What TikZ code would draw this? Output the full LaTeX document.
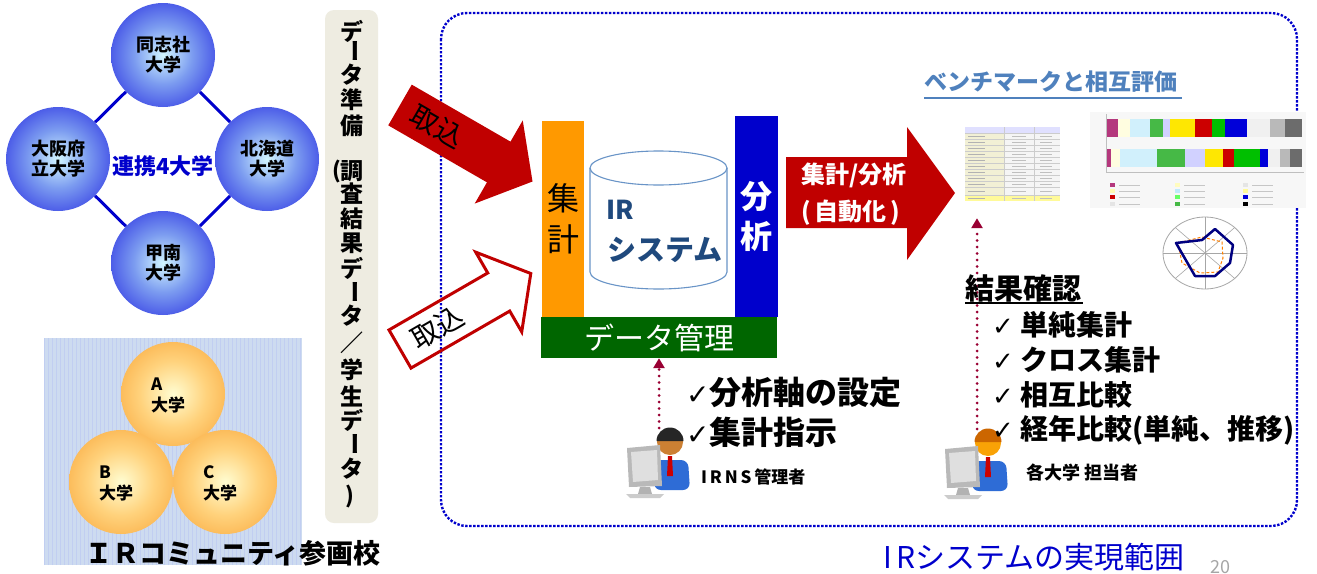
\documentclass[tikz,border=0pt]{standalone}
\usepackage{fontspec}
\setmainfont{Noto Sans CJK JP}
\newfontfamily\symfont{DejaVu Sans}
\usetikzlibrary{arrows.meta}

\newcommand{\sz}[2]{\fontsize{#1}{#2}\selectfont}

\definecolor{irblue}{HTML}{0000CC}
\definecolor{irred}{HTML}{C00000}
\definecolor{aggorange}{HTML}{FF9900}
\definecolor{dmgreen}{HTML}{006600}
\definecolor{pillgray}{HTML}{EEECE1}
\definecolor{gridblue}{HTML}{CDDBF0}
\definecolor{steel}{HTML}{4F81BD}
\definecolor{dbnavy}{HTML}{1F497D}
\definecolor{checkred}{HTML}{990033}
\definecolor{suit}{HTML}{2E6CD6}
% sphere colours
\definecolor{bcore}{HTML}{D2F6FF}
\definecolor{bmid}{HTML}{7C9CF0}
\definecolor{bouter}{HTML}{2A30E2}
\definecolor{bedge}{HTML}{1616B0}
\definecolor{ocore}{HTML}{FFFDD2}
\definecolor{omid}{HTML}{FFD27C}
\definecolor{oouter}{HTML}{F8A234}
\definecolor{oedge}{HTML}{EE8A12}
\pgfdeclareradialshading{bluesphere}{\pgfpoint{0bp}{0bp}}{color(0bp)=(bcore);color(14bp)=(bmid);color(33bp)=(bouter);color(45bp)=(bouter);color(50bp)=(bedge)}
\pgfdeclareradialshading{orangesphere}{\pgfpoint{0bp}{0bp}}{color(0bp)=(ocore);color(16bp)=(omid);color(36bp)=(oouter);color(50bp)=(oedge)}

% person at a desk: head centre x, y, skin, hair, name of the head coordinate
\newcommand{\deskuser}[5]{
  \fill[suit,rounded corners=7] (#1-16,#2+48) -- (#1-16,#2+18) -- (#1+18,#2+18) -- (#1+20,#2+48) -- cycle;
  \fill[white] (#1-4,#2+12) -- (#1+4,#2+12) -- (#1,#2+22) -- cycle;
  \fill[red!80!black] (#1-2,#2+14) -- (#1+2,#2+14) -- (#1+3,#2+34) -- (#1-3,#2+34) -- cycle;
  \fill[#3] (#1,#2) circle (13);
  \fill[#4] (#1-13.5,#2-1) arc[start angle=180,end angle=360,radius=13.5] -- (#1+13.5,#2-1) -- cycle;
  \fill[gray!55] (#1-43,#2+6) -- (#1-10,#2+3) -- (#1-8,#2+44) -- (#1-41,#2+45) -- cycle;
  \fill[gray!25] (#1-39,#2+10) -- (#1-13,#2+8) -- (#1-12,#2+38) -- (#1-37,#2+40) -- cycle;
  \fill[gray!60] (#1-30,#2+45) -- (#1-20,#2+45) -- (#1-18,#2+52) -- (#1-32,#2+52) -- cycle;
  \fill[gray!40] (#1-44,#2+52) -- (#1-6,#2+52) -- (#1-10,#2+56) -- (#1-40,#2+56) -- cycle;
  \coordinate (#5) at (#1-11,#2-14);
}

\begin{document}
\begin{tikzpicture}[x=1pt,y=-1pt,
    every node/.style={inner sep=0pt},
    ball/.style={circle,minimum size=104pt},
    uni/.style={ball,shading=bluesphere,align=center,font=\sz{18pt}{20pt}\bfseries},
    peer/.style={ball,shading=orangesphere},
    peertext/.style={align=left,font=\sz{17pt}{21pt}\bfseries},
    tie/.style={irblue,line width=3pt},
    scopeline/.style={irblue,line width=2.4pt,dash pattern=on 2.4pt off 1.6pt,rounded corners=26},
    checkline/.style={checkred,line width=3pt,line cap=round,dash pattern=on 0pt off 6.5pt,
      -{Triangle[width=11pt,length=10pt,line cap=butt]}},
    bar/.style={minimum width=#1,font=\sz{32pt}{41pt},align=center},
    listtext/.style={anchor=west,font=\sz{28pt}{28pt}\bfseries}]
  \useasboundingbox (0,0) rectangle (1317,573);
  \fill[white] (0,0) rectangle (1317,573);

  % four partner universities
  \node[text=irblue,font=\sz{22pt}{22pt}\bfseries] (union) at (163,166) {連携4大学};
  \node[uni] (dos) at (163,55) {同志社\\大学};
  \node[uni] (osaka) at (58,159) {大阪府\\立大学};
  \node[uni] (hok) at (267,159) {北海道\\大学};
  \node[uni] (konan) at (163,263) {甲南\\大学};
  \draw[tie] (dos) -- (osaka);
  \draw[tie] (dos) -- (hok);
  \draw[tie] (konan) -- (osaka);
  \draw[tie] (konan) -- (hok);

  % member schools
  \fill[gridblue] (44,338) rectangle (302,565);
  \draw[blue!6!gridblue,line width=0.3pt,step=4] (44,338) grid (302,565);
  \node[peer] (pa) at (173,394) {};
  \node[peer] (pb) at (121,482) {};
  \node[peer] (pc) at (225,482) {};
  \foreach \p/\t in {pa/A, pb/B, pc/C}
    \node[peertext] at ([xshift=-5pt,yshift=-1pt]\p) {\t\\大学};
  \node[font=\sz{27pt}{27pt}\bfseries] (members) at (233,553) {ＩＲコミュニティ参画校};

  % data preparation column
  \fill[pillgray,rounded corners=9] (325,10) rectangle (378,523);
  \foreach \c/\r/\y in {デ/0/31, ー/-90/51, タ/0/75, 準/0/100, 備/0/126, 調/0/171, 査/0/194,
      結/0/219, 果/0/243, デ/0/268, ー/-90/292, タ/0/316, ／/0/343, 学/0/370, 生/0/396,
      デ/0/420, ー/-90/444, タ/0/469}
    \node[rotate=\r,font=\sz{23pt}{23pt}\bfseries] at (352,\y) {\c};
  \node[font=\sz{22pt}{22pt}\bfseries] (popen) at (337,172) {(};
  \node[font=\sz{22pt}{22pt}\bfseries] (pclose) at (350,496) {)};

  % range of the IR system
  \draw[scopeline] (441,13) rectangle (1297,526);

  % imports
  \begin{scope}[shift={(400,105)},rotate=-30]
    \fill[irred] (0,-23.5) -- (114,-23.5) -- (114,-48) -- (153,0) -- (114,48) -- (114,23.5) -- (0,23.5) -- cycle;
    \node[rotate=-30,font=\sz{28pt}{28pt}] (imp1) at (43,0) {取込};
  \end{scope}
  \begin{scope}[shift={(400,349)},rotate=30]
    \draw[irred,line width=3pt] (0,-22) -- (114,-22) -- (114,-46) -- (151,0) -- (114,46) -- (114,22) -- (0,22) -- cycle;
    \node[rotate=30,font=\sz{28pt}{28pt}] (imp2) at (43,0) {取込};
  \end{scope}

  % IR system
  \node[bar=42pt,minimum height=196pt,fill=aggorange] (agg) at (563,219) {集\\計};
  \node[bar=43pt,minimum height=201pt,fill=irblue,text=white,font=\sz{32pt}{40pt}\bfseries] (ana) at (756.5,216.5) {分\\析};
  \node[minimum width=236pt,minimum height=41pt,fill=dmgreen,text=white,font=\sz{30pt}{30pt}] (dm) at (659,337.5) {データ管理};
  \draw[steel!85,line width=1.1pt,fill=white] (590,168) -- (590,272) arc[start angle=180,end angle=0,x radius=68.5,y radius=17] -- (727,168);
  \draw[steel!85,line width=1.1pt] (658.5,168) ellipse [x radius=68.5,y radius=17];
  \node[text=dbnavy,font=\sz{26pt}{26pt}\bfseries] (irtag) at (620,210) {IR};
  \node[text=dbnavy,font=\sz{29pt}{29pt}\bfseries] (irsys) at (665,250) {システム};

  % automatic aggregation
  \fill[irred] (786,157) -- (907,157) -- (907,127) -- (955,193) -- (907,260) -- (907,228) -- (786,228) -- cycle;
  \node[anchor=west,text=white,font=\sz{24pt}{24pt}\bfseries] (auto1) at (801,175) {集計/分析};
  \node[anchor=west,text=white,font=\sz{24pt}{24pt}\bfseries] (auto2) at (801,213) {(\,自動化\,)};

  % benchmark
  \node[text=steel,font=\sz{23pt}{23pt}\bfseries] (bench) at (1051,82) {ベンチマークと相互評価};
  \draw[steel,line width=1.8pt] (bench.south west) ++(0,5) -- ++(258,0);

  \node[minimum width=95pt,minimum height=74pt] (tbl) at (1012.5,164) {};
  \fill[gray!8] (965,127) rectangle (1060,201);
  \fill[blue!12] (965,127) rectangle (1060,133);
  \fill[yellow!40!white] (965,195) rectangle (1060,201);
  \fill[olive!12] (965,133) rectangle (1004,195);
  \foreach \y in {133,139,145,151,157,163,169,175,181,187,195}
    \draw[gray!40,line width=0.4pt] (965,\y) -- (1060,\y);
  \foreach \x in {1004,1034}
    \draw[gray!40,line width=0.4pt] (\x,127) -- (\x,201);
  \foreach \y in {136,142,148,154,160,166,172,178,184,191,198} {
    \draw[gray!60,line width=0.8pt] (968,\y) -- (985,\y);
    \draw[gray!50,line width=0.8pt] (1012,\y) -- (1026,\y);
    \draw[gray!50,line width=0.8pt] (1040,\y) -- (1052,\y);
  }

  \fill[gray!6] (1090,112) rectangle (1306,208);
  \draw[gray!50,line width=0.5pt] (1106,114) -- (1106,172) -- (1304,172);
  \foreach \a/\b/\c in {1107/1118/magenta!70!black, 1118/1130/yellow!12, 1130/1150/cyan!18,
      1150/1163/green!45!gray, 1163/1170/blue!18, 1170/1195/yellow!90!orange, 1195/1212/red!80!black,
      1212/1225/green!75!black, 1225/1247/blue!85!black, 1247/1270/gray!12, 1270/1285/gray!55,
      1285/1302/gray!85!black}
    \fill[\c] (\a,119) rectangle (\b,137);
  \foreach \a/\b/\c in {1107/1111/magenta!70!black, 1111/1120/yellow!12, 1120/1157/cyan!18,
      1157/1185/green!45!gray, 1185/1205/blue!18, 1205/1223/yellow!90!orange, 1223/1234/red!80!black,
      1234/1260/green!75!black, 1260/1268/blue!85!black, 1268/1280/gray!12, 1280/1290/gray!55,
      1290/1302/gray!85!black}
    \fill[\c] (\a,149) rectangle (\b,167);
  \foreach \x/\y/\c in {1110/185/magenta!70!black, 1110/191/yellow!30, 1110/197/red!80!black, 1110/204/gray!20,
      1175/185/yellow!25, 1175/191/cyan!25, 1175/197/green!60, 1175/204/green!45!gray,
      1243/185/gray!20, 1243/191/yellow!40, 1243/197/blue!85!black, 1243/204/black} {
    \fill[\c] (\x,\y-2) rectangle (\x+5,\y+2);
    \draw[gray!45,line width=0.6pt] (\x+9,\y) -- (\x+30,\y);
  }

  % radar chart
  \draw[gray!70,line width=0.8pt] (1205,253) ellipse [x radius=42,y radius=36];
  \foreach \t in {0,45,...,315}
    \draw[gray!70,line width=0.6pt] (1205,253) -- ++({42*cos(\t)},{36*sin(\t)});
  \draw[orange,line width=1pt,dash pattern=on 3pt off 2pt] (1178,243) -- (1202,237) -- (1222,242) -- (1223,258) -- (1218,272) -- (1200,273) -- (1182,263) -- cycle;
  \draw[blue!50!black,line width=2.5pt,line join=round] (1176,243) -- (1202,240) -- (1215,229) -- (1233,245) -- (1230,263) -- (1215,276) -- (1195,276) -- cycle;

  % IRNS administrator
  \deskuser{670}{442}{brown!80!orange}{black!85}{admin}
  \draw[checkline] (admin) -- (admin |- dm.south);
  \node[anchor=west,font=\sz{32pt}{32pt}\bfseries] (axis) at (686,392) {{\symfont\mdseries\sz{28pt}{28pt}✓}分析軸の設定};
  \node[anchor=west,font=\sz{32pt}{32pt}\bfseries] (order) at (686,432) {{\symfont\mdseries\sz{28pt}{28pt}✓}集計指示};
  \node[anchor=west,font=\sz{17pt}{17pt}\bfseries] (admtag) at (701,477) {I\,R\,N\,S\,管理者};

  % staff of each university
  \deskuser{988}{443}{orange!70!yellow!90!brown}{orange!80!black}{staff}
  \draw[checkline] (staff) -- (staff |- tbl.south) [shorten >=17pt];
  \node[anchor=west,font=\sz{29pt}{29pt}\bfseries] (review) at (965,288) {結果確認};
  \draw[black,line width=1.8pt] (965,303) -- (1083,303);
  \foreach \t [count=\i] in {単純集計,クロス集計,相互比較,経年比較(単純、推移)}
    \node[listtext] (res\i) at (992,{290+35*\i}) {{\symfont\mdseries\sz{26pt}{26pt}✓} \t};
  \node[anchor=west,font=\sz{18pt}{18pt}\bfseries] (stafftag) at (1026,473) {各大学 担当者};

  \node[text=irblue,font=\sz{30pt}{30pt}] (scope) at (1034,557) {I\,Rシステムの実現範囲};
  \node[text=gray!70,font=\sz{18pt}{18pt}] (page) at (1220,567) {20};
\end{tikzpicture}
\end{document}
